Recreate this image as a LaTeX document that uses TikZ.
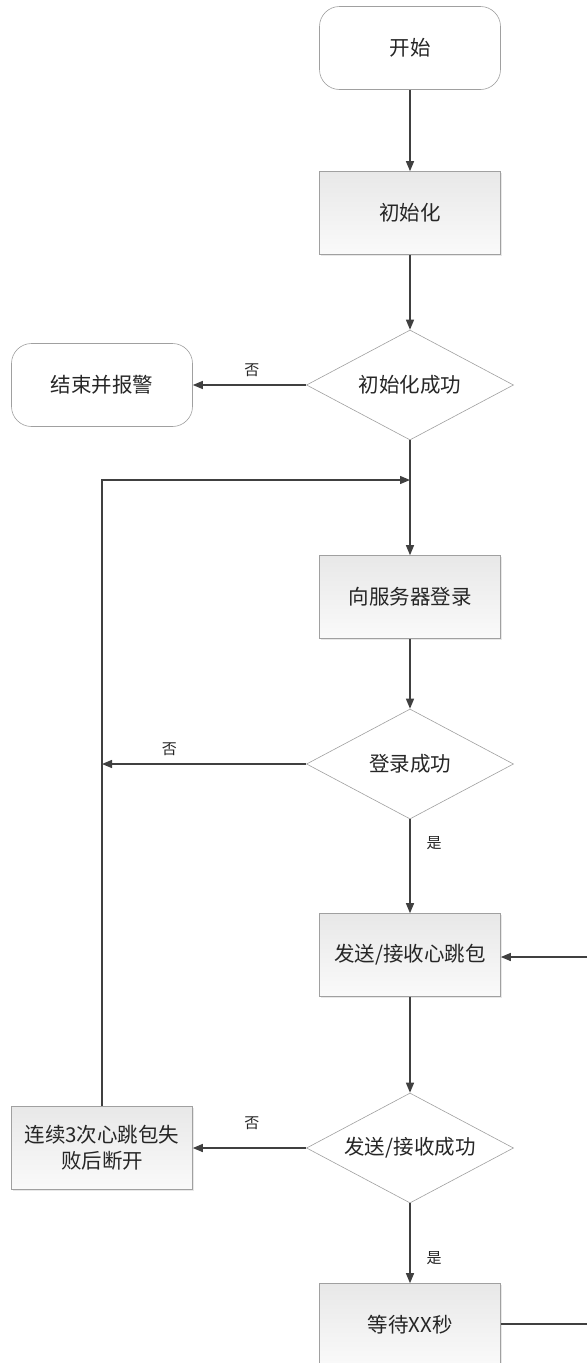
\documentclass[tikz,border=0pt]{standalone}
\usepackage{fontspec}
\setmainfont{Noto Sans CJK SC}
\usetikzlibrary{arrows.meta,shapes.geometric,shadows}
\definecolor{linec}{HTML}{404040}
\definecolor{borderc}{HTML}{A0A0A0}
\tikzset{
  base/.style={font=\fontsize{20.5}{26}\selectfont, text=black!85, inner sep=0pt, align=center},
  terminal/.style={base, draw=borderc, fill=white, rounded corners=20pt, minimum width=181pt, minimum height=83pt, line width=0.6pt},
  procbox/.style={base, draw=borderc, top color=black!9, bottom color=black!2, minimum width=181pt, minimum height=83pt, line width=0.6pt,
    drop shadow={opacity=0.18, shadow xshift=1.2pt, shadow yshift=-1.2pt}},
  decision/.style={base, draw=borderc, fill=white, diamond, aspect=1.88, minimum width=207pt, minimum height=110pt, line width=0.6pt},
  conn/.style={draw=linec, line width=1.3pt},
  arr/.style={conn, -{Triangle[length=10pt,width=8pt]}},
  lbl/.style={font=\fontsize{15}{17}\selectfont, text=black!85, inner sep=0pt}
}
\begin{document}
\begin{tikzpicture}[x=1pt,y=-1pt]
\useasboundingbox (0,0) rectangle (587,1363);
\node[terminal] (start) at (410,48) {开始};
\node[procbox] (init) at (410,213) {初始化};
\node[decision] (d1) at (410,385) {初始化成功};
\node[terminal] (alarm) at (102,385) {结束并报警};
\node[procbox] (login) at (410,597) {向服务器登录};
\node[decision] (d2) at (410,764) {登录成功};
\node[procbox] (hb) at (410,955) {发送/接收心跳包};
\node[decision] (d3) at (410,1148) {发送/接收成功};
\node[procbox] (fail) at (102,1148) {连续3次心跳包失\\败后断开};
\node[procbox] (wait) at (410,1325) {等待XX秒};

\coordinate (j) at (410,480);
\coordinate (k) at (fail.north |- d2.west);
\coordinate (r1) at (587,957);
\coordinate (r2) at (587,1324);

\draw[arr] (start) -- (init);
\draw[arr] (init) -- (d1);
\draw[arr] (d1.west) -- node[lbl, pos=0.48, above=8pt] (n1) {否} (alarm.east);
\draw[arr] (d1.south) -- (login.north);
\draw[arr] (fail.north) |- (j);
\draw[arr] (d2.west) -- node[lbl, pos=0.67, above=8pt] (n2) {否} (k);
\draw[arr] (login) -- (d2);
\draw[arr] (d2.south) -- node[lbl, pos=0.25, right=16pt] (y1) {是} (hb.north);
\draw[arr] (r1) -- (hb.east |- r1);
\draw[arr] (hb) -- (d3);
\draw[arr] (d3.west) -- node[lbl, pos=0.48, above=18pt] (n3) {否} (fail.east);
\draw[arr] (d3.south) -- node[lbl, pos=0.68, right=16pt] (y2) {是} (wait.north);
\draw[conn] (wait.east |- r2) -- (r2);
\end{tikzpicture}
\end{document}
